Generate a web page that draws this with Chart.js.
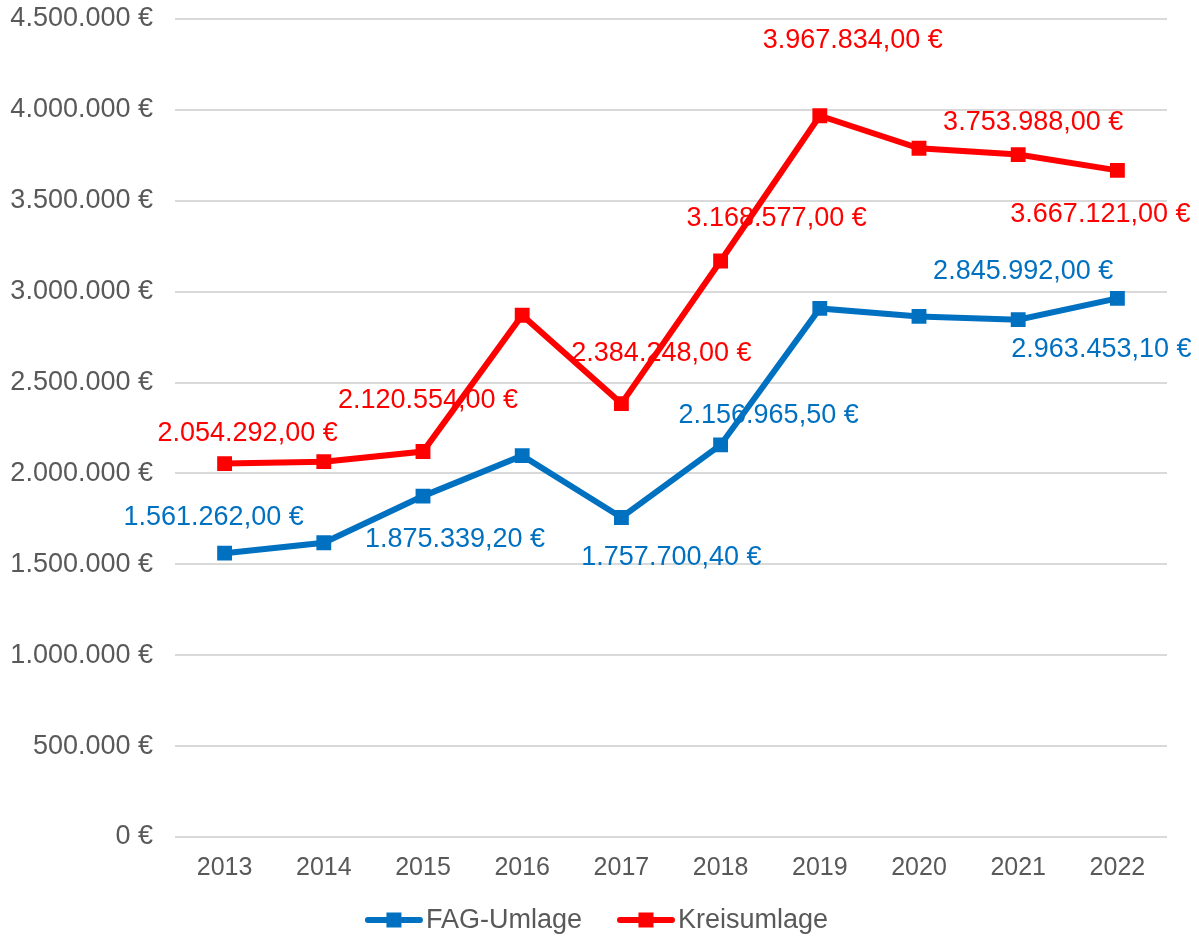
<!DOCTYPE html>
<html>
<head>
<meta charset="utf-8">
<script src="https://cdn.jsdelivr.net/npm/chart.js@4/dist/chart.umd.min.js"></script>
<style>
  html, body { margin: 0; padding: 0; background: #fff; }
  #wrap { width: 1199px; height: 938px; }
</style>
</head>
<body>
<div id="wrap"><canvas id="mycanvas"></canvas></div>
<script>
// years on the x axis
var years = ['2013', '2014', '2015', '2016', '2017', '2018', '2019', '2020', '2021', '2022'];

// FAG-Umlage (values without a label are read off the picture)
var fagUmlage = [1561262.00, 1619000, 1875339.20, 2098000, 1757700.40, 2156965.50, 2908000, 2864000, 2845992.00, 2963453.10];
// Kreisumlage
var kreisumlage = [2054292.00, 2065000, 2120554.00, 2870000, 2384248.00, 3168577.00, 3967834.00, 3789000, 3753988.00, 3667121.00];

// which points carry a value label in the original
var fagLabelled = [true, false, true, false, true, true, false, false, true, true];
var kreisLabelled = [true, false, true, false, true, true, true, false, true, true];

// y axis ticks
var yMax = 4500000;
var yStep = 500000;

// where each label sits relative to its point (dx, dy in px)
var fagLabelOffset = [[-11, -36], null, [32, 43], null, [50, 40], [48, -29], null, null, [5, -48], [-16, 51]];
var kreisLabelOffset = [[23, -30], null, [5, -51], null, [40, -50], [56, -42], [33, -75], null, [15, -32], [-17, 44]];

var blue = '#0070C0';
var red = '#FF0000';
var grey = '#595959';
var fontName = '"Liberation Sans", Arial, sans-serif';

function euro(v, decimals) {
    var fixed = v.toFixed(decimals);
    var parts = fixed.split('.');
    var intPart = parts[0].replace(/\B(?=(\d{3})+(?!\d))/g, '.');
    return intPart + (decimals ? ',' + parts[1] : '') + ' €';
}

var valueLabels = {
    id: 'valueLabels',
    afterDatasetsDraw: function(chart) {
        var ctx = chart.ctx;
        var sets = [[fagLabelled, fagLabelOffset], [kreisLabelled, kreisLabelOffset]];
        ctx.save();
        ctx.font = '27px ' + fontName;
        ctx.textAlign = 'center';
        ctx.textBaseline = 'middle';
        chart.data.datasets.forEach(function(ds, di) {
            var meta = chart.getDatasetMeta(di);
            ctx.fillStyle = ds.borderColor;
            meta.data.forEach(function(pt, i) {
                if (!sets[di][0][i]) return;
                var off = sets[di][1][i];
                ctx.fillText(euro(ds.data[i], 2), pt.x + off[0], pt.y + off[1]);
            });
        });
        ctx.restore();
    }
};

// legend drawn by hand: line with a square, then the name
var lineLegend = {
    id: 'lineLegend',
    afterDraw: function(chart) {
        var ctx = chart.ctx;
        var y = 920;
        var markW = 58, textGap = 3, itemGap = 35;
        ctx.save();
        ctx.font = '27px ' + fontName;
        ctx.textBaseline = 'middle';
        var total = 0;
        chart.data.datasets.forEach(function(ds, i) {
            total += markW + textGap + ctx.measureText(ds.label).width;
            if (i > 0) total += itemGap;
        });
        var x = chart.width / 2 - total / 2 - 3;
        chart.data.datasets.forEach(function(ds) {
            ctx.strokeStyle = ds.borderColor;
            ctx.lineWidth = 6;
            ctx.lineCap = 'round';
            ctx.beginPath();
            ctx.moveTo(x + 3, y);
            ctx.lineTo(x + markW - 3, y);
            ctx.stroke();
            ctx.fillStyle = ds.borderColor;
            ctx.fillRect(x + markW / 2 - 7.5, y - 7.5, 15, 15);
            x += markW + textGap;
            ctx.fillStyle = grey;
            ctx.fillText(ds.label, x, y + 1);
            x += ctx.measureText(ds.label).width + itemGap;
        });
        ctx.restore();
    }
};

var chartdata = {
    labels: years,
    datasets: [
        {
            label: 'FAG-Umlage',
            data: fagUmlage,
            borderColor: blue,
            backgroundColor: blue,
            borderWidth: 6,
            pointStyle: 'rect',
            pointRadius: 10.5,
            pointBorderWidth: 0,
            tension: 0
        },
        {
            label: 'Kreisumlage',
            data: kreisumlage,
            borderColor: red,
            backgroundColor: red,
            borderWidth: 6,
            pointStyle: 'rect',
            pointRadius: 10.5,
            pointBorderWidth: 0,
            tension: 0
        }
    ]
};

var ctx = document.getElementById('mycanvas');

new Chart(ctx, {
    type: 'line',
    data: chartdata,
    plugins: [valueLabels, lineLegend],
    options: {
        responsive: true,
        maintainAspectRatio: false,
        animation: false,
        layout: { padding: { top: 19, right: 32, left: 0, bottom: 39 } },
        plugins: {
            tooltip: { enabled: false },
            legend: { display: false }
        },
        scales: {
            x: {
                offset: true,
                grid: { display: false, drawTicks: false },
                border: { display: false },
                ticks: {
                    color: grey,
                    font: { family: fontName, size: 25 },
                    padding: 16,
                    maxRotation: 0
                }
            },
            y: {
                min: 0,
                max: yMax,
                afterFit: function(scale) {
                    scale.width = 175;
                    scale.paddingTop = 0;
                    scale.paddingBottom = 0;
                },
                grid: { color: '#D9D9D9', lineWidth: 2, drawTicks: false },
                border: { display: false },
                ticks: {
                    stepSize: yStep,
                    color: grey,
                    font: { family: fontName, size: 27 },
                    padding: 22,
                    callback: function(v) { return euro(v, 0); }
                }
            }
        }
    }
});
</script>
</body>
</html>
